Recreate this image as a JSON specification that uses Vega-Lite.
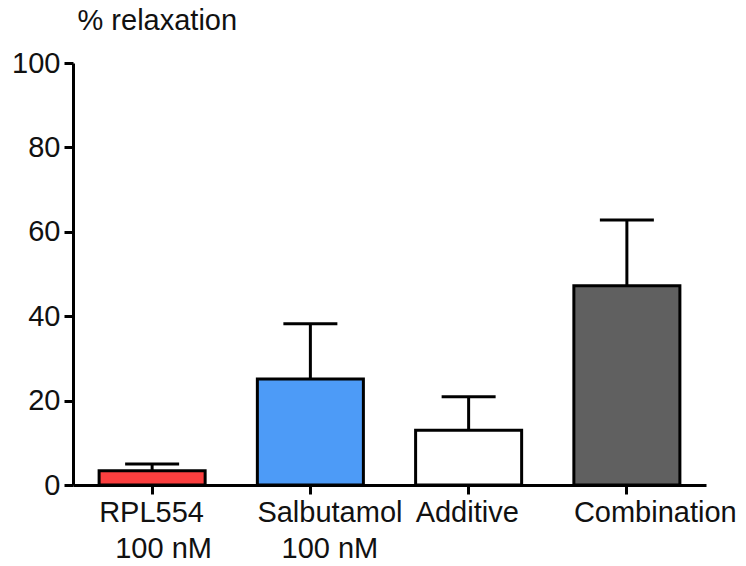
{
  "$schema": "https://vega.github.io/schema/vega-lite/v6.json",
  "width": 633,
  "height": 422,
  "autosize": "none",
  "padding": {"left": 73, "top": 63, "right": 40, "bottom": 81},
  "background": "white",
  "config": {
    "view": {"stroke": null},
    "font": "Liberation Sans",
    "axis": {
      "domainColor": "black",
      "domainWidth": 3,
      "tickColor": "black",
      "tickWidth": 3,
      "labelColor": "#111111",
      "titleColor": "#111111",
      "labelFont": "Liberation Sans",
      "titleFont": "Liberation Sans",
      "grid": false
    }
  },
  "data": {
    "values": [
      {"group": "RPL554|\u200b\u00a0\u00a0100 nM", "mean": 3.4, "upper": 5.0},
      {"group": "Salbutamol|\u200b\u00a0\u00a0\u00a0100 nM", "mean": 25.1, "upper": 38.2},
      {"group": "Additive", "mean": 13.0, "upper": 20.9},
      {"group": "Combination", "mean": 47.2, "upper": 62.8}
    ]
  },
  "encoding": {
    "x": {
      "field": "group",
      "type": "nominal",
      "sort": null,
      "scale": {"paddingInner": 0.33, "paddingOuter": 0.165},
      "axis": {
        "title": null,
        "labelAngle": 0,
        "tickSize": 9,
        "labelFontSize": 29,
        "labelAlign": "left",
        "labelOffset": -53,
        "labelBaseline": "top",
        "labelLineHeight": 36,
        "labelPadding": 4,
        "labelLimit": 400,
        "labelOverlap": false,
        "labelExpr": "split(datum.value, '|')"
      }
    }
  },
  "layer": [
    {
      "mark": {"type": "bar", "stroke": "black", "strokeWidth": 3},
      "encoding": {
        "y": {
          "field": "mean",
          "type": "quantitative",
          "scale": {"domain": [0, 100], "nice": false},
          "axis": {
            "title": "% relaxation",
            "titleAngle": 0,
            "titleAlign": "left",
            "titleBaseline": "alphabetic",
            "titleX": 4,
            "titleY": -34,
            "titleFontSize": 29,
            "titleFontWeight": "normal",
            "values": [0, 20, 40, 60, 80, 100],
            "labelFontSize": 29,
            "tickSize": 9,
            "labelPadding": 4
          }
        },
        "fill": {
          "field": "group",
          "type": "nominal",
          "scale": {
            "domain": ["RPL554|\u200b\u00a0\u00a0100 nM", "Salbutamol|\u200b\u00a0\u00a0\u00a0100 nM", "Additive", "Combination"],
            "range": ["#fb3f3f", "#4d9bf7", "#ffffff", "#606060"]
          },
          "legend": null
        }
      }
    },
    {
      "mark": {"type": "rule", "strokeWidth": 3, "color": "black"},
      "encoding": {
        "y": {"field": "mean", "type": "quantitative"},
        "y2": {"field": "upper"}
      }
    },
    {
      "mark": {"type": "tick", "orient": "horizontal", "size": 54, "thickness": 3, "color": "black", "opacity": 1},
      "encoding": {
        "y": {"field": "upper", "type": "quantitative"}
      }
    }
  ]
}
